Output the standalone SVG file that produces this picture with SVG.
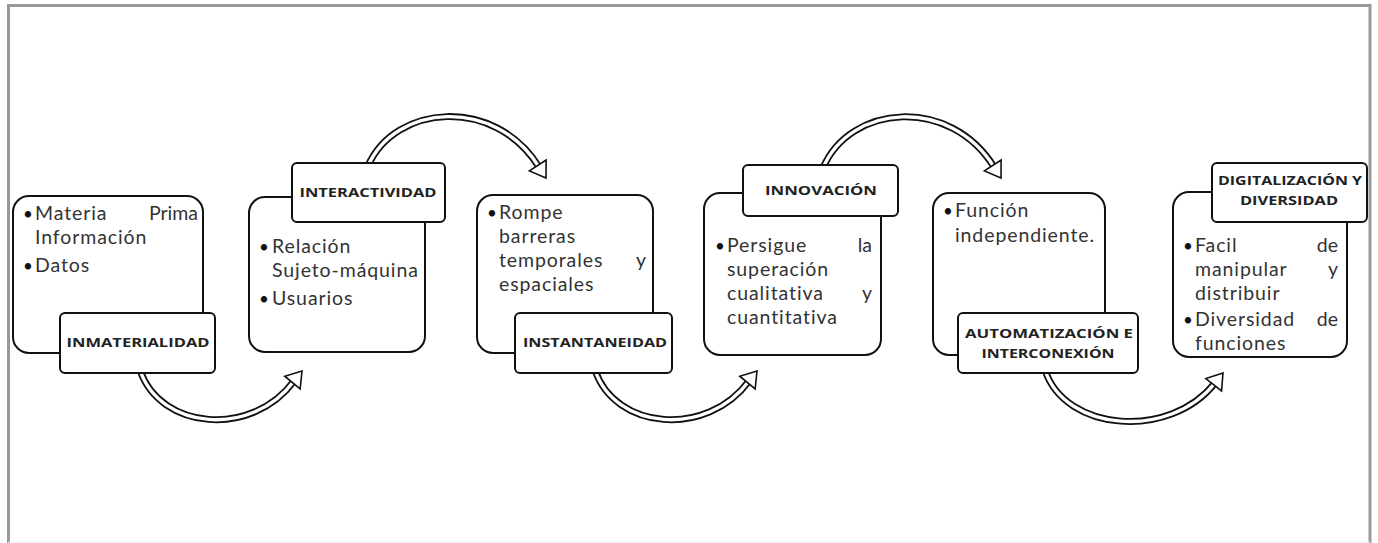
<svg xmlns="http://www.w3.org/2000/svg" xmlns:xlink="http://www.w3.org/1999/xlink" width="1378" height="543" viewBox="0 0 1378 543">
<style>
.box{fill:#fff;stroke:#111;stroke-width:2}
.lbl{fill:#fff;stroke:#111;stroke-width:2}
.t{font-family:Lato,"Liberation Sans",sans-serif;font-size:19.5px;letter-spacing:0.9px;fill:#333}
.d{font-family:Lato,"Liberation Sans",sans-serif;font-size:17px;fill:#111}
.b{font-family:"Open Sans","Liberation Sans",sans-serif;font-size:13px;font-weight:bold;fill:#222;text-anchor:middle}
.e{text-anchor:end;letter-spacing:0}
.so{fill:none;stroke:#111;stroke-width:7}
.si{fill:none;stroke:#fff;stroke-width:3.4}
.hd{fill:#fff;stroke:#111;stroke-width:1.6;stroke-linejoin:miter}
.frame{fill:none;stroke:#999;stroke-width:3}
</style>
<defs>
<polygon id="head" class="hd" points="0,0 -15,-10 -15,10"/>
</defs>
<rect width="1378" height="543" fill="#fff"/>
<path class="frame" d="M8.5,543 V5.5 H1370 V543"/>
<line x1="8" y1="542" x2="1370" y2="542" stroke="#eee" stroke-width="1"/>

<g id="connectors">
<path class="so" d="M140,370 C160,430 252,438 294,381"/>
<path class="si" d="M140,370 C160,430 252,438 294,381"/>
<use xlink:href="#head" transform="translate(302,371) rotate(-50.5)"/>

<path class="so" d="M368,166 C395,104 495,96 539,167"/>
<path class="si" d="M368,166 C395,104 495,96 539,167"/>
<use xlink:href="#head" transform="translate(546,178) rotate(56.7)"/>

<path class="so" d="M595,370 C615,430 707,438 749,381"/>
<path class="si" d="M595,370 C615,430 707,438 749,381"/>
<use xlink:href="#head" transform="translate(757,371) rotate(-50.5)"/>

<path class="so" d="M823,168 C850,104 950,96 994,167"/>
<path class="si" d="M823,168 C850,104 950,96 994,167"/>
<use xlink:href="#head" transform="translate(1001,178) rotate(56.7)"/>

<path class="so" d="M1045,370 C1065,432 1170,440 1215,383"/>
<path class="si" d="M1045,370 C1065,432 1170,440 1215,383"/>
<use xlink:href="#head" transform="translate(1223,373) rotate(-51.7)"/>
</g>

<g id="node-inmaterialidad">
<rect class="box" x="13" y="196" width="190" height="157" rx="16"/>
<text class="d" x="23" y="220">•</text>
<text class="t" x="35" y="220">Materia</text>
<text class="t e" x="198" y="220">Prima</text>
<text class="t" x="35" y="244">Información</text>
<text class="d" x="23" y="272">•</text>
<text class="t" x="35" y="272">Datos</text>
<rect class="lbl" x="60" y="313" width="155" height="60" rx="5"/>
<text class="b" x="138" y="347" textLength="143" lengthAdjust="spacingAndGlyphs">INMATERIALIDAD</text>
</g>

<g id="node-interactividad">
<rect class="box" x="249" y="197" width="176" height="155" rx="16"/>
<text class="d" x="259" y="253">•</text>
<text class="t" x="272" y="253">Relación</text>
<text class="t" x="272" y="277">Sujeto-máquina</text>
<text class="d" x="259" y="305">•</text>
<text class="t" x="272" y="305">Usuarios</text>
<rect class="lbl" x="292" y="163" width="153" height="59" rx="5"/>
<text class="b" x="368" y="197" textLength="137" lengthAdjust="spacingAndGlyphs">INTERACTIVIDAD</text>
</g>

<g id="node-instantaneidad">
<rect class="box" x="477" y="195" width="176" height="158" rx="16"/>
<text class="d" x="487" y="219">•</text>
<text class="t" x="499" y="219">Rompe</text>
<text class="t" x="499" y="243">barreras</text>
<text class="t" x="499" y="267">temporales</text>
<text class="t e" x="646" y="267">y</text>
<text class="t" x="499" y="291">espaciales</text>
<rect class="lbl" x="515" y="313" width="157" height="60" rx="5"/>
<text class="b" x="595" y="347" textLength="144" lengthAdjust="spacingAndGlyphs">INSTANTANEIDAD</text>
</g>

<g id="node-innovacion">
<rect class="box" x="704" y="193" width="177" height="162" rx="16"/>
<text class="d" x="715" y="252">•</text>
<text class="t" x="727" y="252">Persigue</text>
<text class="t e" x="872" y="252">la</text>
<text class="t" x="727" y="276">superación</text>
<text class="t" x="727" y="300">cualitativa</text>
<text class="t e" x="872" y="300">y</text>
<text class="t" x="727" y="324">cuantitativa</text>
<rect class="lbl" x="743" y="165" width="155" height="51" rx="5"/>
<text class="b" x="821" y="195" textLength="112" lengthAdjust="spacingAndGlyphs">INNOVACIÓN</text>
</g>

<g id="node-automatizacion">
<rect class="box" x="933" y="193" width="172" height="162" rx="16"/>
<text class="d" x="943" y="217">•</text>
<text class="t" x="955" y="217">Función</text>
<text class="t" x="955" y="242">independiente.</text>
<rect class="lbl" x="958" y="313" width="180" height="60" rx="5"/>
<text class="b" x="1049" y="338" textLength="168" lengthAdjust="spacingAndGlyphs">AUTOMATIZACIÓN E</text>
<text class="b" x="1048" y="358" textLength="133" lengthAdjust="spacingAndGlyphs">INTERCONEXIÓN</text>
</g>

<g id="node-digitalizacion">
<rect class="box" x="1173" y="192" width="174" height="165" rx="16"/>
<text class="d" x="1183" y="252">•</text>
<text class="t" x="1195" y="252">Facil</text>
<text class="t e" x="1338" y="252">de</text>
<text class="t" x="1195" y="276">manipular</text>
<text class="t e" x="1338" y="276">y</text>
<text class="t" x="1195" y="300">distribuir</text>
<text class="d" x="1183" y="326">•</text>
<text class="t" x="1195" y="326">Diversidad</text>
<text class="t e" x="1338" y="326">de</text>
<text class="t" x="1195" y="350">funciones</text>
<rect class="lbl" x="1212" y="163" width="155" height="59" rx="5"/>
<text class="b" x="1290" y="185" textLength="144" lengthAdjust="spacingAndGlyphs">DIGITALIZACIÓN Y</text>
<text class="b" x="1289" y="205" textLength="98" lengthAdjust="spacingAndGlyphs">DIVERSIDAD</text>
</g>
</svg>
